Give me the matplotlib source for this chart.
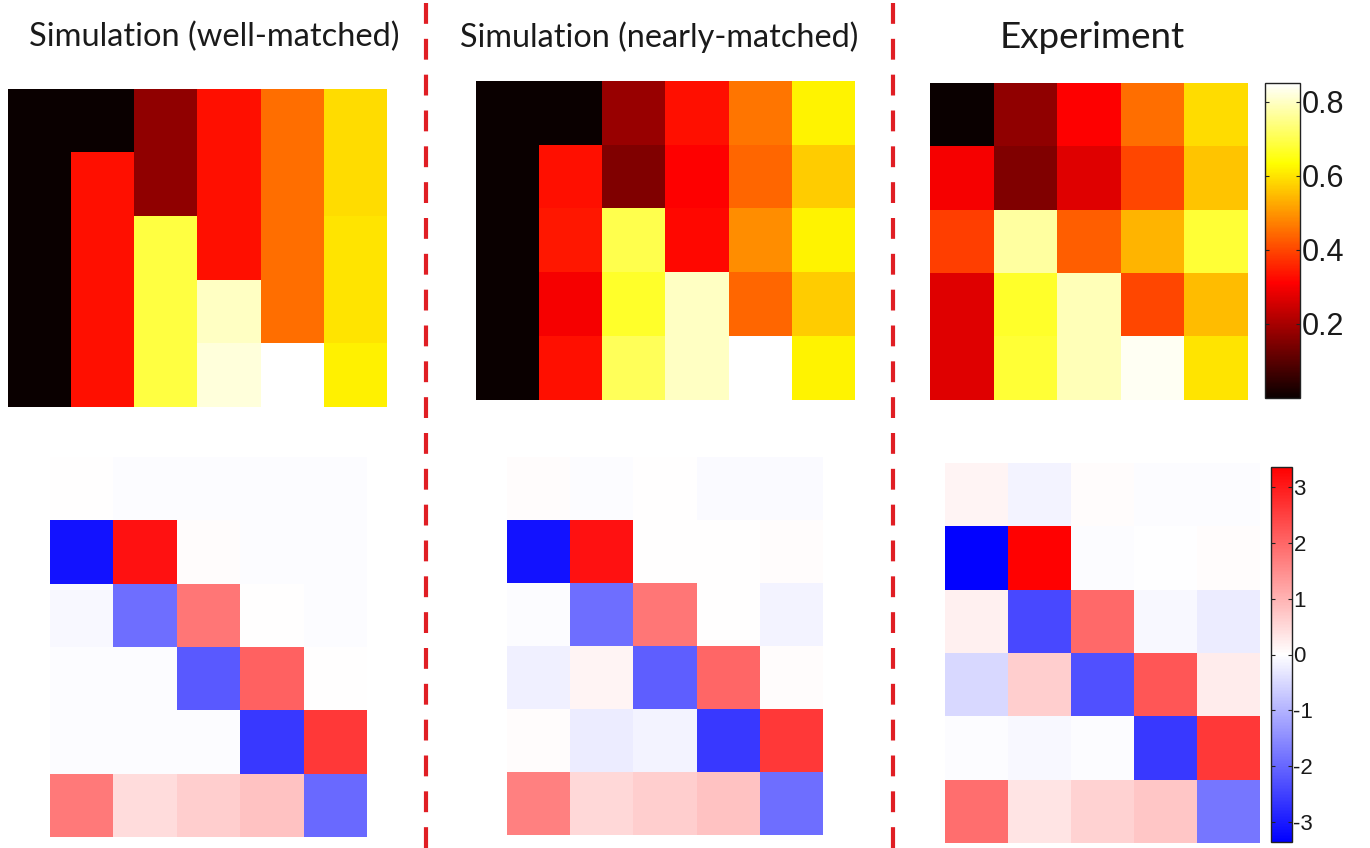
import numpy as np
import matplotlib
matplotlib.use("Agg")
import matplotlib.pyplot as plt
from matplotlib.colors import LinearSegmentedColormap
from matplotlib.lines import Line2D

W, H = 1370, 848

titles = ["Simulation (well-matched)", "Simulation (nearly-matched)", "Experiment"]

# Top row: population maps (hot colormap)
sim_well_top = [
    [0.00, 0.00, 0.17, 0.33, 0.45, 0.59],
    [0.00, 0.33, 0.17, 0.33, 0.45, 0.59],
    [0.00, 0.33, 0.69, 0.33, 0.45, 0.60],
    [0.00, 0.33, 0.69, 0.80, 0.45, 0.60],
    [0.00, 0.33, 0.69, 0.82, 0.85, 0.615],
]
sim_near_top = [
    [0.00, 0.00, 0.18, 0.33, 0.46, 0.62],
    [0.00, 0.33, 0.15, 0.31, 0.44, 0.57],
    [0.00, 0.34, 0.70, 0.32, 0.49, 0.62],
    [0.00, 0.30, 0.67, 0.80, 0.44, 0.57],
    [0.00, 0.33, 0.71, 0.80, 0.85, 0.62],
]
experiment_top = [
    [0.00, 0.17, 0.31, 0.45, 0.59],
    [0.30, 0.15, 0.27, 0.40, 0.56],
    [0.39, 0.77, 0.43, 0.54, 0.68],
    [0.27, 0.67, 0.79, 0.40, 0.55],
    [0.27, 0.68, 0.79, 0.84, 0.60],
]

# Bottom row: difference maps (blue-white-red)
sim_well_bottom = [
    [0.00, -0.05, -0.05, -0.05, -0.05],
    [-3.10, 3.10, 0.03, -0.05, -0.05],
    [-0.10, -1.90, 1.80, 0.02, -0.05],
    [-0.05, -0.05, -2.15, 2.05, 0.00],
    [-0.05, -0.05, -0.05, -2.60, 2.60],
    [1.75, 0.45, 0.65, 0.80, -1.95],
]
sim_near_bottom = [
    [0.03, -0.05, 0.00, -0.07, -0.07],
    [-3.10, 3.10, 0.00, 0.02, 0.03],
    [-0.05, -1.90, 1.80, 0.00, -0.15],
    [-0.20, 0.15, -2.10, 2.00, 0.05],
    [0.05, -0.25, -0.15, -2.60, 2.60],
    [1.65, 0.50, 0.65, 0.80, -1.90],
]
experiment_bottom = [
    [0.15, -0.15, 0.05, -0.03, -0.05],
    [-3.30, 3.30, -0.05, -0.02, 0.05],
    [0.20, -2.40, 1.95, -0.08, -0.25],
    [-0.50, 0.65, -2.30, 2.20, 0.25],
    [-0.05, -0.08, -0.03, -2.60, 2.60],
    [1.90, 0.35, 0.60, 0.75, -1.80],
]

top_ticks = [0.2, 0.4, 0.6, 0.8]
top_ticklabels = ["0.2", "0.4", "0.6", "0.8"]
bottom_ticks = [-3, -2, -1, 0, 1, 2, 3]
bottom_ticklabels = ["-3", "-2", "-1", "0", "1", "2", "3"]

top_vmin, top_vmax = 0.0, 0.85
bot_lim = 3.35

bwr = LinearSegmentedColormap.from_list("bwr_lin", ["#0000ff", "#ffffff", "#ff0000"])

fig = plt.figure(figsize=(W / 100, H / 100), dpi=100)
fig.patch.set_facecolor("white")


def px_axes(x0, y0, x1, y1):
    return fig.add_axes([x0 / W, 1 - y1 / H, (x1 - x0) / W, (y1 - y0) / H])


def heat(ax, data, cmap, vmin, vmax):
    im = ax.imshow(np.array(data), cmap=cmap, vmin=vmin, vmax=vmax,
                   aspect="auto", interpolation="nearest")
    ax.set_axis_off()
    return im


top_boxes = [(8, 89, 387, 407), (476, 81, 855, 400), (930, 83, 1247, 400)]
bot_boxes = [(50, 457, 367, 837), (507, 457, 823, 835), (945, 463, 1260, 843)]
tops = [sim_well_top, sim_near_top, experiment_top]
bots = [sim_well_bottom, sim_near_bottom, experiment_bottom]

for box, data in zip(top_boxes, tops):
    im_top = heat(px_axes(*box), data, "hot", top_vmin, top_vmax)
for box, data in zip(bot_boxes, bots):
    im_bot = heat(px_axes(*box), data, bwr, -bot_lim, bot_lim)


def styled_colorbar(im, box, ticks, labels, size):
    cax = px_axes(*box)
    cb = fig.colorbar(im, cax=cax)
    cb.set_ticks(ticks)
    cb.set_ticklabels(labels)
    cb.outline.set_linewidth(1.0)
    cb.outline.set_edgecolor("#222222")
    cax.yaxis.set_ticks_position("both")
    cax.tick_params(axis="y", which="both", direction="in", length=3, width=0.8,
                    left=True, right=True, labelleft=False, labelright=True,
                    labelsize=size, pad=1, colors="#222222")
    for t in cax.get_yticklabels():
        t.set_fontfamily("Liberation Sans")
        t.set_color("#1a1a1a")
    cax.minorticks_off()
    return cb


styled_colorbar(im_top, (1265, 83, 1300, 398), top_ticks, top_ticklabels, 22)
styled_colorbar(im_bot, (1271, 467, 1292, 842), bottom_ticks, bottom_ticklabels, 16)

# Column titles
title_pos = [(214, 37), (659, 37), (1092, 38)]
title_sizes = [23.5, 23.3, 26.5]
for (tx, ty), txt, fs in zip(title_pos, titles, title_sizes):
    fig.text(tx / W, 1 - ty / H, txt, ha="center", va="center",
             fontsize=fs, family="Lato", color="#1a1a1a")

# Dashed separators between columns
for xs in (426, 893):
    fig.add_artist(Line2D([xs / W, xs / W], [0, 1], transform=fig.transFigure,
                          color="#e01e24", linewidth=3.0,
                          linestyle=(0, (5.0, 3.6))))

fig.savefig("out.png", dpi=100, facecolor="white")
